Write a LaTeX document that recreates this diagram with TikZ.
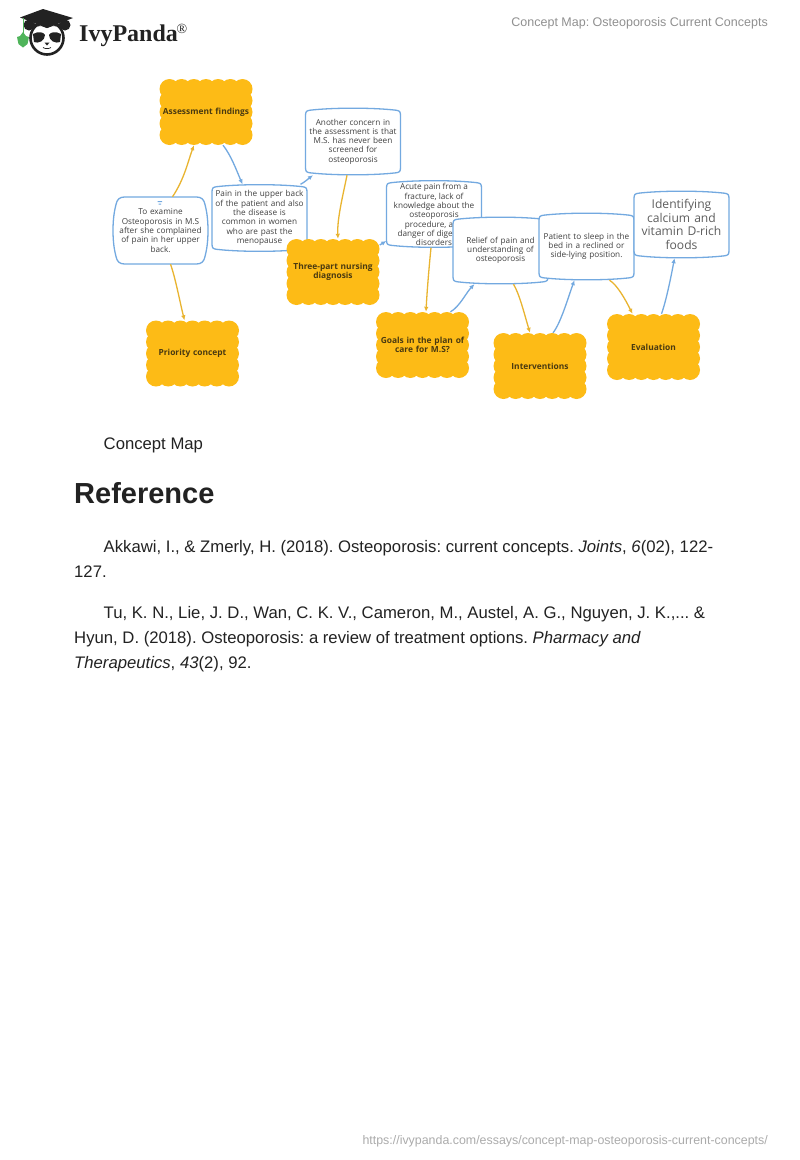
\documentclass[tikz,border=0pt]{standalone}
\usepackage{fontspec}
\setmainfont{Liberation Sans}
\newfontfamily\boxfont{Open Sans}
\newfontfamily\logofont{Liberation Serif}
\usetikzlibrary{arrows.meta}
\definecolor{cloudfill}{HTML}{FDBB16}
\definecolor{boxblue}{HTML}{73A9E0}
\definecolor{linkorange}{HTML}{E9B430}
\definecolor{inkdark}{HTML}{222222}
\definecolor{graytxt}{HTML}{909090}
\definecolor{footgray}{HTML}{ABABAB}
\definecolor{clouddark}{HTML}{4A3A10}
\definecolor{boxtxt}{HTML}{404040}
\definecolor{ivygreen}{HTML}{4FB45A}
\tikzset{
  x=1pt,y=-1pt,
  cloudbox/.style={inner sep=0pt,minimum width=93pt,minimum height=66pt,text width=91pt,align=center,
     execute at end node={\par\vskip-3pt},
     font=\boxfont\bfseries\fontsize{8.4}{9.6}\selectfont,text=clouddark},
  whitebox/.style={inner sep=0pt,minimum width=95pt,minimum height=67pt,text width=93pt,align=center,
     execute at end node={\par\vskip-3pt},
     font=\boxfont\fontsize{8.2}{9.3}\selectfont,text=boxtxt},
  bluelink/.style={draw=boxblue,line width=1.3pt,-{Latex[length=5pt,width=4.5pt]}},
  orangelink/.style={draw=linkorange,line width=1.3pt,-{Latex[length=5pt,width=4.5pt]}},
  pagetext/.style={anchor=base west,inner sep=0pt,font=\fontsize{16.7}{20}\selectfont,text=inkdark},
  cloudpic/.pic={
    \fill[cloudfill] (-36.5,-23) rectangle (36.5,23);
    \foreach \k in {0,...,6}{
      \fill[cloudfill] (-36.5+\k*12.17,-23) circle (10);
      \fill[cloudfill] (-36.5+\k*12.17,23) circle (10);
    }
    \foreach \k in {1,2,3}{
      \fill[cloudfill] (-36.5,-23+\k*11.5) circle (10);
      \fill[cloudfill] (36.5,-23+\k*11.5) circle (10);
    }
  },
  whitepic/.pic={
    \draw[fill=white,draw=boxblue,line width=1.3pt]
      (-47.5,-26) .. controls (-47.5,-30) and (-46.5,-30.8) .. (-43,-31.3)
      .. controls (-20,-34) and (20,-34) .. (43,-31.3)
      .. controls (46.5,-30.8) and (47.5,-30) .. (47.5,-26)
      -- (47.5,26) .. controls (47.5,30) and (46.5,30.8) .. (43,31.3)
      .. controls (20,34) and (-20,34) .. (-43,31.3)
      .. controls (-46.5,30.8) and (-47.5,30) .. (-47.5,26) -- cycle;
  },
  roundwhitepic/.pic={
    \draw[fill=white,draw=boxblue,line width=1.3pt]
      (-47.5,0) .. controls (-47.5,-14) and (-45.5,-22) .. (-44.5,-26)
      .. controls (-43.5,-31) and (-41,-33.5) .. (-36,-33.5)
      -- (36,-33.5)
      .. controls (41,-33.5) and (43.5,-31) .. (44.5,-26)
      .. controls (45.5,-22) and (47.5,-14) .. (47.5,0)
      .. controls (47.5,14) and (45.5,22) .. (44.5,26)
      .. controls (43.5,31) and (41,33.5) .. (36,33.5)
      -- (-36,33.5)
      .. controls (-41,33.5) and (-43.5,31) .. (-44.5,26)
      .. controls (-45.5,22) and (-47.5,14) .. (-47.5,0) -- cycle;
  },
}
\begin{document}
\begin{tikzpicture}
\frenchspacing
\useasboundingbox (0,0) rectangle (800,1160);
\fill[white] (0,0) rectangle (800,1160);
% header
\node[anchor=base east,inner sep=0pt,font=\fontsize{12.5}{15}\selectfont,text=graytxt] (head) at (768,26) {Concept Map: Osteoporosis Current Concepts};
\node[anchor=base west,inner sep=0pt,font=\logofont\bfseries\fontsize{24}{28}\selectfont,text=inkdark] (brand) at (79,41) {IvyPanda};
\node[anchor=base west,inner sep=0pt,font=\logofont\fontsize{14}{15}\selectfont,text=inkdark] (regm) at (176.5,33) {®};
% logo
\fill[inkdark] (29,25) circle (5.5) (65,25) circle (5.5);
\draw[fill=white,draw=inkdark,line width=2.6pt] (47,38) circle (16.5);
\fill[inkdark] (20,17.5) -- (43,9) -- (73,18) -- (47,28) -- cycle;
\fill[inkdark] (31,22) -- (47,28) -- (63,22) -- (63,28) .. controls (55,25) and (39,25) .. (31,28) -- cycle;
\fill[inkdark] (33,34) .. controls (38,31) and (44,32) .. (45,35) .. controls (45,41) and (38,44) .. (34,42) -- cycle;
\fill[inkdark] (61,34) .. controls (56,31) and (50,32) .. (49,35) .. controls (49,41) and (56,44) .. (60,42) -- cycle;
\fill[inkdark] (44.5,42.5) -- (49.5,42.5) -- (47,45.5) -- cycle;
\draw[inkdark,line width=.7pt] (43,47.5) .. controls (45,49) and (49,49) .. (51,47.5);
\draw[ivygreen,line width=.8pt] (23,18) -- (23,33);
\fill[ivygreen] (23,32) -- (26,36) -- (29,37) -- (27.5,44) -- (23,47.5) -- (18.5,44) -- (17,37) -- (20,36) -- cycle;
% white boxes
\pic at (434,214) {whitepic};
\node[whitebox] (acute) at (434,214) {};
\begin{scope}
\clip (386,180) rectangle (482,245.5);
\node[inner sep=0pt,font=\boxfont\fontsize{8.2}{9.3}\selectfont,text=boxtxt,align=center,anchor=north] (acutetxt) at (434,183.5) {Acute pain from a\\fracture, lack of\\knowledge about the\\osteoporosis\\procedure, and\\danger of digestive\\disorders};
\end{scope}
\pic at (259.5,218) {whitepic};
\node[whitebox] (pain) at (259.5,218) {Pain in the upper back\\of the patient and also\\the disease is\\common in women\\who are past the\\menopause};
\pic at (160.5,230.5) {roundwhitepic};
\node[whitebox] (examine) at (160.5,230.5) {To examine\\Osteoporosis in M.S\\after she complained\\of pain in her upper\\back.};
\pic at (353,141.5) {whitepic};
\node[whitebox] (another) at (353,141.5) {Another concern in\\the assessment is that\\M.S. has never been\\screened for\\osteoporosis};
\pic at (500.5,250.5) {whitepic};
\node[whitebox] (relief) at (500.5,250.5) {Relief of pain and\\understanding of\\osteoporosis};
\pic at (586.5,246.5) {whitepic};
\node[whitebox] (patient) at (586.5,246.5) {Patient to sleep in the\\bed in a reclined or\\side-lying position.};
\pic at (681.5,224.5) {whitepic};
\node[whitebox,font=\boxfont\fontsize{12.1}{13.6}\selectfont,text=boxtxt!85] (identify) at (681.5,224.5) {Identifying\\calcium and\\vitamin D-rich\\foods};
\fill[white] (160,203) circle (5);
\fill[boxblue] (157.5,201) rectangle (162,202) (158.5,203.5) rectangle (161,204.5);
% clouds
\pic at (206,112) {cloudpic};
\node[cloudbox] (assess) at (206,112) {Assessment findings};
\pic at (333,272) {cloudpic};
\node[cloudbox] (three) at (333,272) {Three-part nursing\\diagnosis};
\pic at (192.5,353.5) {cloudpic};
\node[cloudbox] (priority) at (192.5,353.5) {Priority concept};
\pic at (422.5,345) {cloudpic};
\node[cloudbox] (goals) at (422.5,345) {Goals in the plan of\\care for M.S?};
\pic at (540,366) {cloudpic};
\node[cloudbox] (interv) at (540,366) {Interventions};
\pic at (653.5,347) {cloudpic};
\node[cloudbox] (evalu) at (653.5,347) {Evaluation};
% connectors
\draw[orangelink] ([xshift=12pt]examine.north) .. controls +(12,-18) and +(-6,16) .. ([xshift=-12pt]assess.south);
\draw[bluelink] ([xshift=17pt]assess.south) .. controls +(8,10) and +(-6,-14) .. ([xshift=-17pt]pain.north);
\draw[bluelink] ([xshift=41pt]pain.north) .. controls +(4,-2) and +(-4,3) .. ([xshift=-40pt]another.south);
\draw[orangelink] ([xshift=-6pt]another.south) .. controls +(-4,20) and +(-1,-20) .. ([xshift=5pt]three.north);
\draw[bluelink] ([yshift=27pt]three.east) -- ([yshift=-27pt]acute.west);
\draw[orangelink] ([xshift=10pt]examine.south) .. controls +(5,14) and +(-5,-20) .. ([xshift=-8pt]priority.north);
\draw[orangelink] ([xshift=-3pt]acute.south) .. controls +(-2,20) and +(1,-20) .. ([xshift=3.5pt]goals.north);
\draw[bluelink] ([xshift=28pt]goals.north) .. controls +(9,-5) and +(-8,8) .. ([xshift=-26pt]relief.south);
\draw[orangelink] ([xshift=13pt]relief.south) .. controls +(6,10) and +(-6,-20) .. ([xshift=-10pt]interv.north);
\draw[bluelink] ([xshift=13pt]interv.north) .. controls +(8,-10) and +(-6,16) .. ([xshift=-12pt]patient.south);
\draw[orangelink] ([xshift=23pt]patient.south) .. controls +(8,5) and +(-7,-14) .. ([xshift=-21pt]evalu.north);
\draw[bluelink] ([xshift=8pt]evalu.north) .. controls +(5,-14) and +(-3,16) .. ([xshift=-7pt]identify.south);
% page text
\node[pagetext] (cap) at (103.5,449.5) {Concept Map};
\node[anchor=base west,inner sep=0pt,font=\bfseries\fontsize{29}{34}\selectfont,text=inkdark] (ref) at (74,503) {Reference};
\node[pagetext] (r1a) at (103.5,552) {Akkawi, I., \& Zmerly, H. (2018). Osteoporosis: current concepts. \textit{Joints}, \textit{6}(02), 122-};
\node[pagetext] (r1b) at (74,577) {127.};
\node[pagetext] (r2a) at (103.5,618) {Tu, K. N., Lie, J. D., Wan, C. K. V., Cameron, M., Austel, A. G., Nguyen, J. K.,... \&};
\node[pagetext] (r2b) at (74,643) {Hyun, D. (2018). Osteoporosis: a review of treatment options. \textit{Pharmacy and}};
\node[pagetext] (r2c) at (74,668) {\textit{Therapeutics}, \textit{43}(2), 92.};
% footer
\node[anchor=base east,inner sep=0pt,font=\fontsize{12.4}{15}\selectfont,text=footgray] (foot) at (768,1144.5) {https://ivypanda.com/essays/concept-map-osteoporosis-current-concepts/};
\end{tikzpicture}
\end{document}
